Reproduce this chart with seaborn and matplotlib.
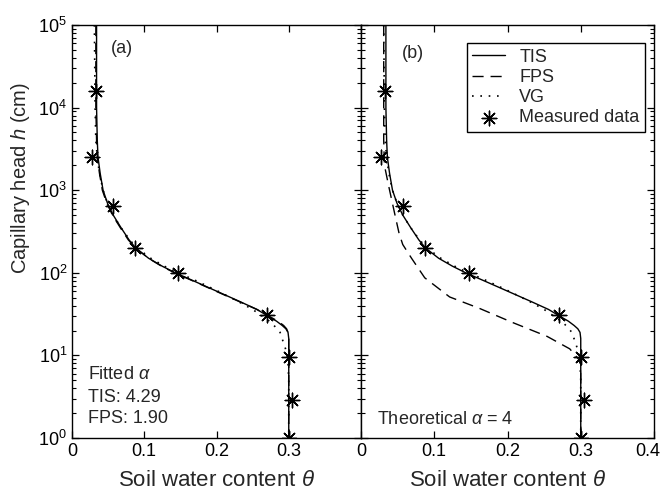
import numpy as np
import pandas as pd
import matplotlib
matplotlib.use('Agg')
import matplotlib.pyplot as plt
import matplotlib.transforms as mtransforms
import seaborn as sns

# Datos medidos (iguales en ambos paneles)
meas_theta = [0.033, 0.027, 0.057, 0.087, 0.147, 0.270, 0.300, 0.304, 0.300]
meas_h = [1.6e4, 2.5e3, 650, 200, 100, 31, 9.5, 2.9, 1.0]

# Curva TIS (misma en ambos paneles)
tis_h = [1e5, 1e4, 4e3, 2.5e3, 1.6e3, 1e3, 700, 500, 350, 250, 200, 150, 120,
         100, 80, 60, 45, 36, 30, 26, 23, 21, 19, 16, 10, 1]
tis_theta = [0.034, 0.034, 0.035, 0.036, 0.039, 0.043, 0.049, 0.057, 0.068,
             0.079, 0.088, 0.106, 0.125, 0.143, 0.168, 0.200, 0.232, 0.256,
             0.271, 0.283, 0.291, 0.296, 0.299, 0.300, 0.300, 0.300]

# Panel (a): FPS y VG ajustados
fps_a_h = tis_h
fps_a_theta = [0.033, 0.033, 0.034, 0.035, 0.038, 0.042, 0.048, 0.056, 0.067,
               0.078, 0.088, 0.106, 0.124, 0.142, 0.167, 0.199, 0.231, 0.256,
               0.272, 0.285, 0.293, 0.297, 0.299, 0.300, 0.300, 0.300]
vg_h = [1e5, 1e4, 4e3, 2.5e3, 1.6e3, 1e3, 700, 500, 350, 250, 200, 150, 120,
        100, 80, 60, 45, 36, 30, 25, 19, 14, 11, 8, 5, 1]
vg_theta = [0.031, 0.032, 0.033, 0.035, 0.038, 0.043, 0.049, 0.057, 0.068,
            0.080, 0.090, 0.109, 0.128, 0.147, 0.172, 0.202, 0.230, 0.250,
            0.263, 0.276, 0.288, 0.293, 0.297, 0.299, 0.300, 0.300]

# Panel (b): FPS con alfa teorico
fps_b_h = [1e5, 1e4, 4e3, 2e3, 1.1e3, 520, 300, 220, 150, 87, 51, 37, 25, 17,
           12, 9, 8, 5, 1]
fps_b_theta = [0.031, 0.031, 0.031, 0.032, 0.038, 0.046, 0.052, 0.057, 0.069,
               0.087, 0.121, 0.162, 0.207, 0.254, 0.285, 0.297, 0.300, 0.300,
               0.300]

x_ticks_a = [0, 0.1, 0.2, 0.3]
x_labels_a = ['0', '0.1', '0.2', '0.3']
x_ticks_b = [0, 0.1, 0.2, 0.3, 0.4]
x_labels_b = ['0', '0.1', '0.2', '0.3', '0.4']

sns.set_style('ticks')
plt.rcParams['font.family'] = ['Liberation Sans', 'DejaVu Sans']
plt.rcParams['mathtext.fontset'] = 'custom'
plt.rcParams['mathtext.rm'] = 'Liberation Sans'
plt.rcParams['mathtext.it'] = 'Liberation Sans:italic'
plt.rcParams['axes.linewidth'] = 1.0

W, H = 664, 492
fig = plt.figure(figsize=(W / 100, H / 100), dpi=100)
left, right_split, right = 72, 361, 654
top, bottom = 25, 438
ax_a = fig.add_axes([left / W, 1 - bottom / H, (right_split - left) / W, (bottom - top) / H])
ax_b = fig.add_axes([right_split / W, 1 - bottom / H, (right - right_split) / W, (bottom - top) / H])

dash = (8, 5)
dot = (1, 4)


def draw_panel(ax, fps_theta, fps_h):
    sns.lineplot(x=tis_theta, y=tis_h, ax=ax, sort=False, estimator=None,
                 color='black', lw=1.0, label='TIS')
    sns.lineplot(x=fps_theta, y=fps_h, ax=ax, sort=False, estimator=None,
                 color='black', lw=1.0, label='FPS', linestyle=(0, dash))
    sns.lineplot(x=vg_theta, y=vg_h, ax=ax, sort=False, estimator=None,
                 color='black', lw=1.2, label='VG', linestyle=(0, dot))
    sns.scatterplot(x=meas_theta, y=meas_h, ax=ax, marker=(8, 2, 0), s=110,
                    color='black', linewidth=1.0, label='Measured data',
                    zorder=5)
    ax.set_yscale('log')
    ax.set_ylim(1, 1e5)
    ax.set_xlim(0, 0.4)
    ax.tick_params(which='both', direction='in', top=True, right=True,
                   labelsize=13, colors='black')
    ax.tick_params(which='major', length=5, width=0.9)
    ax.tick_params(which='minor', length=3, width=0.8)
    ax.set_xlabel(r'Soil water content $\theta$', fontsize=16, labelpad=7)
    for s in ax.spines.values():
        s.set_color('black')


draw_panel(ax_a, fps_a_theta, fps_a_h)
draw_panel(ax_b, fps_b_theta, fps_b_h)

ax_a.set_xticks(x_ticks_a)
ax_a.set_xticklabels(x_labels_a)
ax_b.set_xticks(x_ticks_b)
ax_b.set_xticklabels(x_labels_b)
ax_b.tick_params(axis='y', which='both', labelleft=False)

# la etiqueta 0.4 queda pegada al borde: moverla un poco a la izquierda
last = ax_b.get_xticklabels()[-1]
last.set_transform(last.get_transform() +
                   mtransforms.ScaledTranslation(-6 / 100, 0, fig.dpi_scale_trans))

ax_a.set_ylabel(r'Capillary head $h$ (cm)', fontsize=14.5, labelpad=4)
ax_a.yaxis.set_label_coords(-0.14, 0.63)
ax_b.set_ylabel('')

ax_a.get_legend().remove()
handles, labels = ax_b.get_legend_handles_labels()
ax_b.legend(handles, labels, loc='upper right', bbox_to_anchor=(0.969, 0.956),
            borderaxespad=0, fancybox=False, edgecolor='black', framealpha=1,
            fontsize=13, handlelength=1.8, labelspacing=0.18, borderpad=0.3,
            handletextpad=0.8)
ax_b.get_legend().get_frame().set_linewidth(1.0)

ax_a.text(0.173, 0.944, '(a)', transform=ax_a.transAxes, fontsize=13,
          ha='center', va='center')
ax_b.text(0.177, 0.932, '(b)', transform=ax_b.transAxes, fontsize=13,
          ha='center', va='center')
ax_a.text(0.055, 0.153, r'Fitted $\alpha$', transform=ax_a.transAxes,
          fontsize=13, va='center')
ax_a.text(0.055, 0.099, 'TIS: 4.29', transform=ax_a.transAxes, fontsize=13,
          va='center')
ax_a.text(0.055, 0.048, 'FPS: 1.90', transform=ax_a.transAxes, fontsize=13,
          va='center')
ax_b.text(0.055, 0.044, r'Theoretical $\alpha$ = 4', transform=ax_b.transAxes,
          fontsize=13, va='center')

fig.savefig('out.png', dpi=100)
